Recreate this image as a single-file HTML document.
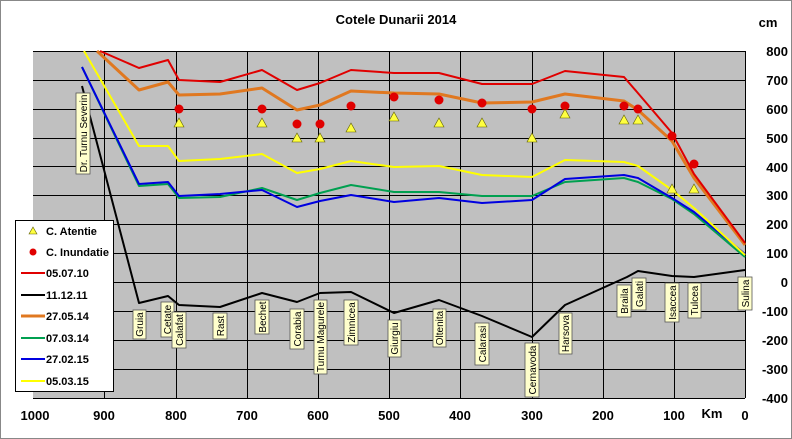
<!DOCTYPE html>
<html><head><meta charset="utf-8"><style>
html,body{margin:0;padding:0;background:#fff}
svg{display:block;font-family:"Liberation Sans",Arial,sans-serif}
.b{font-weight:bold;font-size:13px}
.st{font-size:10px}
</style></head><body>
<svg width="792" height="439" viewBox="0 0 792 439" xmlns="http://www.w3.org/2000/svg">
<rect x="0.5" y="0.5" width="791" height="438" fill="#fff" stroke="#888"/>
<text x="396" y="24" text-anchor="middle" class="b">Cotele Dunarii 2014</text>
<text x="768" y="27" text-anchor="middle" class="b">cm</text>
<rect x="33" y="51" width="712" height="347" fill="#c0c0c0"/>
<g stroke="#000" stroke-width="1">
<path d="M33 51.5H745M33 80.5H745M33 109.5H745M33 138.5H745M33 166.5H745M33 195.5H745M33 224.5H745M33 253.5H745M33 282.5H745M33 311.5H745M33 340.5H745M33 369.5H745M33 398.5H745"/>
<path d="M104.5 51V398M176.5 51V398M247.5 51V398M318.5 51V398M389.5 51V398M460.5 51V398M532.5 51V398M603.5 51V398M674.5 51V398M745.5 51V398"/>
</g>
<g class="b" text-anchor="end">
<text x="788" y="56">800</text><text x="788" y="85">700</text><text x="788" y="114">600</text><text x="788" y="143">500</text><text x="788" y="172">400</text><text x="788" y="200">300</text><text x="788" y="229">200</text><text x="788" y="258">100</text><text x="788" y="287">0</text><text x="788" y="316">-100</text><text x="788" y="345">-200</text><text x="788" y="374">-300</text><text x="788" y="403">-400</text>
</g>
<g class="b" text-anchor="middle">
<text x="35" y="420">1000</text><text x="104" y="420">900</text><text x="176" y="420">800</text><text x="247" y="420">700</text><text x="318" y="420">600</text><text x="389" y="420">500</text><text x="460" y="420">400</text><text x="532" y="420">300</text><text x="603" y="420">200</text><text x="674" y="420">100</text><text x="712" y="418">Km</text><text x="745" y="420">0</text>
</g>
<g fill="none" stroke-width="2" stroke-linejoin="round">
<polyline stroke="#000" points="82,86 139,303 168,296 179,305 220,307 262,293 297,302 320,293 351,292 394,313 439,300 482,316 532,337 565,305 627,277 638,271 672,276 694,277 745,270"/>
<polyline stroke="#00a050" points="82,67 139,186 168,184 179,198 220,197 262,188 297,200 320,193 351,185 394,192 439,192 482,196 532,196 565,182 624,178 638,182 672,199 694,214 745,257"/>
<polyline stroke="#0000e0" points="82,67 139,184 168,182 179,196 220,194 262,190 297,207 320,201 351,195 394,202 439,198 482,203 532,200 565,179 624,175 638,178 672,198 694,212 745,254"/>
<polyline stroke="#ffff00" points="84,51 139,146 168,146 179,161 220,159 262,154 297,173 320,169 351,161 394,167 439,166 482,175 532,177 565,160 624,162 638,166 672,190 694,208 745,255"/>
<polyline stroke="#e07820" stroke-width="3" points="97,51 139,90 168,82 179,95 220,94 262,88 297,110 320,105 351,91 394,93 439,94 482,103 532,102 565,94 624,101 638,110 672,141 694,178 745,245"/>
<polyline stroke="#e00000" points="100,51 139,68 168,60 179,80 220,82 262,70 297,90 320,83 351,70 394,73 439,73 482,84 532,84 565,71 624,77 637,92 672,133 694,174 745,243"/>
</g>
<g fill="#e00000">
<circle cx="179" cy="109" r="4.5"/><circle cx="262" cy="109" r="4.5"/><circle cx="297" cy="124" r="4.5"/><circle cx="320" cy="124" r="4.5"/><circle cx="351" cy="106" r="4.5"/><circle cx="394" cy="97" r="4.5"/><circle cx="439" cy="100" r="4.5"/><circle cx="482" cy="103" r="4.5"/><circle cx="532" cy="109" r="4.5"/><circle cx="565" cy="106" r="4.5"/><circle cx="624" cy="106" r="4.5"/><circle cx="638" cy="109" r="4.5"/><circle cx="672" cy="136" r="4.5"/><circle cx="694" cy="164" r="4.5"/>
</g>
<g fill="#ffff40" stroke="#606000" stroke-width="0.6">
<path d="M179 118l5 9h-10z"/><path d="M262 118l5 9h-10z"/><path d="M297 133l5 9h-10z"/><path d="M320 133l5 9h-10z"/><path d="M351 123l5 9h-10z"/><path d="M394 112l5 9h-10z"/><path d="M439 118l5 9h-10z"/><path d="M482 118l5 9h-10z"/><path d="M532 133l5 9h-10z"/><path d="M565 109l5 9h-10z"/><path d="M624 115l5 9h-10z"/><path d="M638 115l5 9h-10z"/><path d="M672 184l5 9h-10z"/><path d="M694 184l5 9h-10z"/>
</g>
<g fill="#ffffcc" stroke="#555" stroke-width="0.8">
<rect x="76" y="93" width="14" height="81"/><rect x="133" y="310" width="13" height="29"/><rect x="161" y="302" width="13" height="35"/><rect x="172" y="312" width="14" height="36"/><rect x="213" y="313" width="14" height="26"/><rect x="255" y="300" width="14" height="34"/><rect x="290" y="309" width="14" height="40"/><rect x="314" y="300" width="13" height="74"/><rect x="344" y="300" width="14" height="45"/><rect x="388" y="320" width="13" height="37"/><rect x="433" y="309" width="13" height="38"/><rect x="475" y="323" width="14" height="42"/><rect x="525" y="343" width="14" height="54"/><rect x="559" y="313" width="13" height="41"/><rect x="617" y="285" width="14" height="32"/><rect x="632" y="278" width="14" height="32"/><rect x="665" y="283" width="14" height="39"/><rect x="688" y="283" width="13" height="35"/><rect x="738" y="277" width="14" height="33"/>
</g>
<g class="st" text-anchor="middle">
<text transform="translate(87,133.5) rotate(-90)">Dr. Turnu Severin</text>
<text transform="translate(143,324.5) rotate(-90)">Gruia</text>
<text transform="translate(171,319.5) rotate(-90)">Cetate</text>
<text transform="translate(183,330) rotate(-90)">Calafat</text>
<text transform="translate(224,326) rotate(-90)">Rast</text>
<text transform="translate(266,317) rotate(-90)">Bechet</text>
<text transform="translate(301,329) rotate(-90)">Corabia</text>
<text transform="translate(324,337) rotate(-90)">Turnu Magurele</text>
<text transform="translate(355,322.5) rotate(-90)">Zimnicea</text>
<text transform="translate(398,338.5) rotate(-90)">Giurgiu</text>
<text transform="translate(443,328) rotate(-90)">Oltenita</text>
<text transform="translate(486,344) rotate(-90)">Calarasi</text>
<text transform="translate(536,370) rotate(-90)">Cernavoda</text>
<text transform="translate(569,333.5) rotate(-90)">Harsova</text>
<text transform="translate(628,301) rotate(-90)">Braila</text>
<text transform="translate(643,294) rotate(-90)">Galati</text>
<text transform="translate(676,302.5) rotate(-90)">Isaccea</text>
<text transform="translate(698,300.5) rotate(-90)">Tulcea</text>
<text transform="translate(749,293.5) rotate(-90)">Sulina</text>
</g>
<rect x="15.5" y="220.5" width="98" height="171" fill="#fff" stroke="#000"/>
<path d="M33 227l4 7h-8z" fill="#ffff40" stroke="#606000" stroke-width="0.6"/>
<circle cx="33" cy="252" r="3.5" fill="#e00000"/>
<g stroke-width="2"><path d="M21 273H45" stroke="#e00000"/><path d="M21 295H45" stroke="#000"/><path d="M21 316H45" stroke="#e07820" stroke-width="3"/><path d="M21 338H45" stroke="#00a050"/><path d="M21 359H45" stroke="#0000e0"/><path d="M21 381H45" stroke="#ffff00"/></g>
<g font-size="11" font-weight="bold">
<text x="46" y="235">C. Atentie</text><text x="46" y="256">C. Inundatie</text><text x="46" y="277">05.07.10</text><text x="46" y="299">11.12.11</text><text x="46" y="320">27.05.14</text><text x="46" y="342">07.03.14</text><text x="46" y="363">27.02.15</text><text x="46" y="385">05.03.15</text>
</g>
</svg>
</body></html>
